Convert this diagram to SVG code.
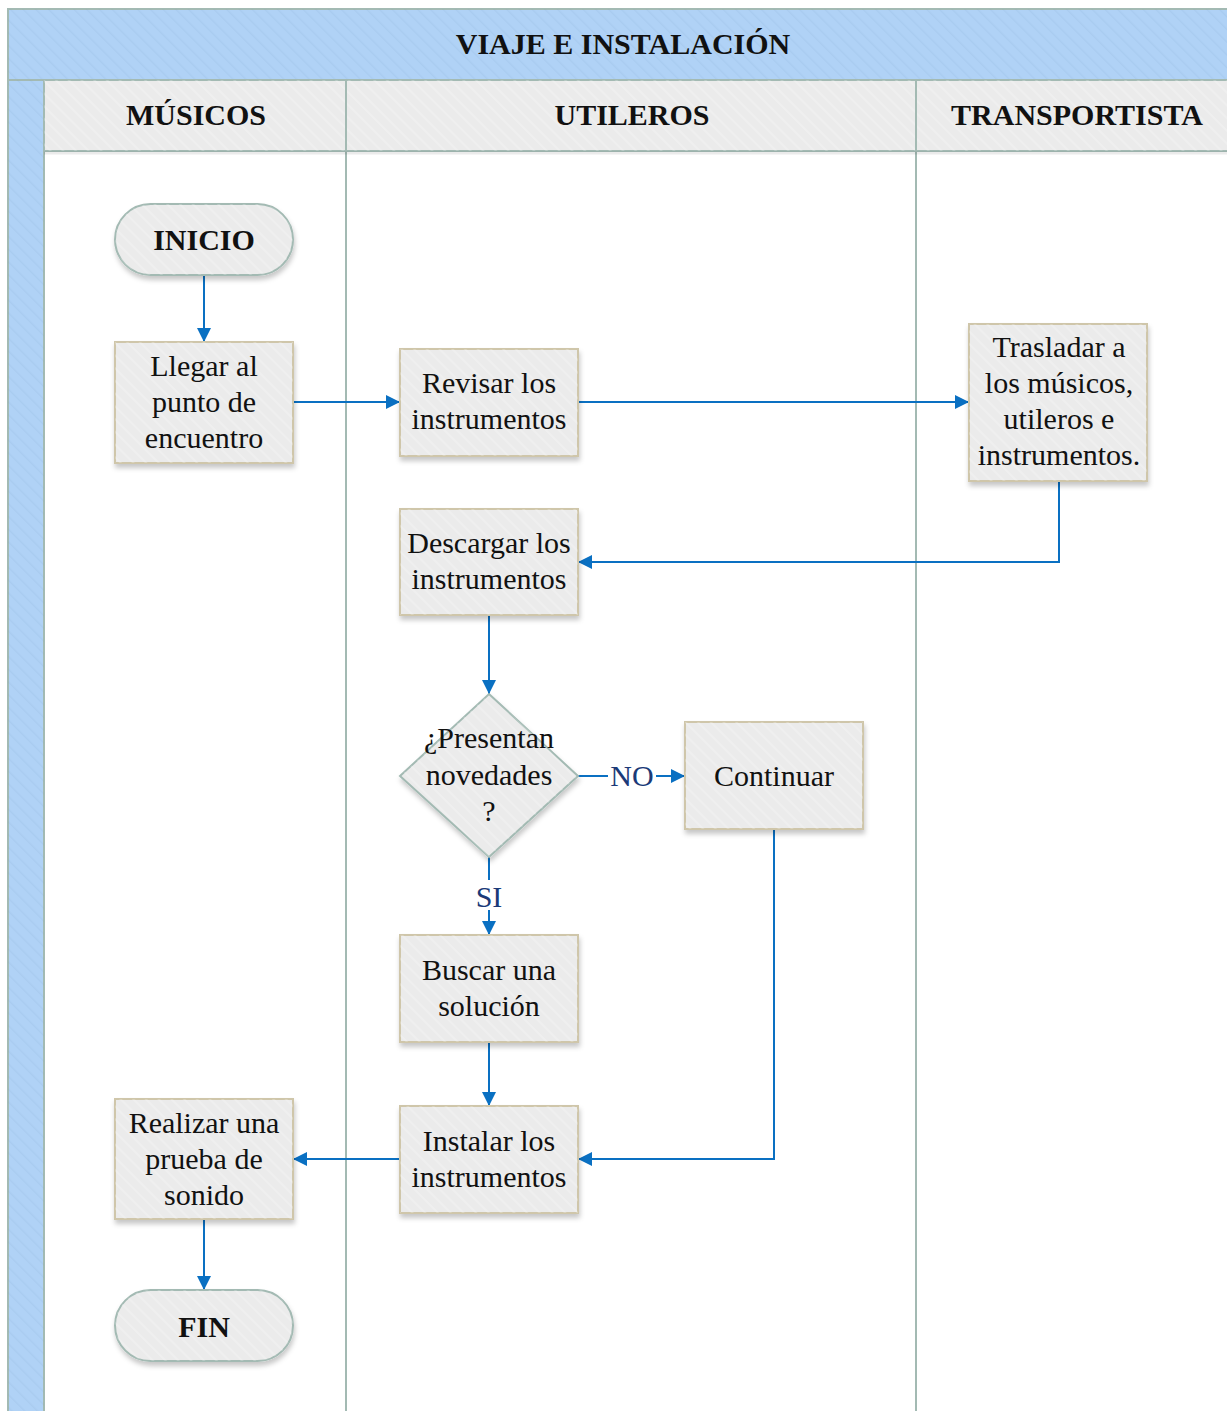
<svg xmlns="http://www.w3.org/2000/svg" width="1227" height="1411" viewBox="0 0 1227 1411">
  <defs>
    <style>
      .band { fill: #b0d2f6; stroke: #a3bab3; stroke-width: 2; }
      .head { fill: #ebebeb; stroke: #a3bab3; stroke-width: 2; }
      .lane { stroke: #a3bab3; stroke-width: 2; fill: none; }
      .box { fill: #ebebeb; stroke: #cfc6aa; stroke-width: 2; filter: url(#shadow); }
      .term { fill: #ebebeb; stroke: #a3bab3; stroke-width: 2; filter: url(#shadow); }
      .hatch { fill: url(#stripes); pointer-events: none; }
      .t { font-family: "Liberation Serif", "Times New Roman", serif; font-size: 30px; fill: #111; text-anchor: middle; }
      .b { font-family: "Liberation Serif", "Times New Roman", serif; font-weight: bold; font-size: 30px; fill: #111; text-anchor: middle; }
      .lbl { font-family: "Liberation Serif", "Times New Roman", serif; font-size: 30px; fill: #1b3a78; text-anchor: middle; }
      .flow { stroke: #0a70c2; stroke-width: 2; fill: none; marker-end: url(#arrow); }
    </style>
    <pattern id="stripes" width="9" height="9" patternUnits="userSpaceOnUse" patternTransform="rotate(-45)">
      <rect x="0" y="0" width="2" height="9" fill="#ffffff" opacity="0.22"/>
    </pattern>
    <pattern id="stripesDark" width="9" height="9" patternUnits="userSpaceOnUse" patternTransform="rotate(-45)">
      <rect x="0" y="0" width="1.5" height="9" fill="#6f93c0" opacity="0.1"/>
    </pattern>
    <filter id="shadow" x="-10%" y="-10%" width="125%" height="130%">
      <feDropShadow dx="1" dy="4" stdDeviation="2.5" flood-color="#000" flood-opacity="0.22"/>
    </filter>
    <marker id="arrow" viewBox="0 0 12 12" refX="12" refY="6" markerWidth="14" markerHeight="14" markerUnits="userSpaceOnUse" orient="auto">
      <path d="M0,0 L12,6 L0,12 Z" fill="#0a70c2"/>
    </marker>
  </defs>

  <rect width="1227" height="1411" fill="#ffffff"/>

  <!-- Pool frame: title band, left band, lane headers -->
  <g id="pool">
    <rect class="band" x="8" y="9" width="1230" height="71"/>
    <rect x="8" y="9" width="1230" height="71" fill="url(#stripesDark)"/>
    <rect class="band" x="8" y="80" width="36" height="1340"/>
    <rect x="8" y="80" width="36" height="1340" fill="url(#stripesDark)"/>
    <rect class="head" x="44" y="80" width="1190" height="71"/>
    <rect class="hatch" x="44" y="80" width="1190" height="71"/>
    <line class="lane" x1="346" y1="80" x2="346" y2="1420"/>
    <line class="lane" x1="916" y1="80" x2="916" y2="1420"/>
    <line x1="44" y1="153" x2="1227" y2="153" stroke="#000" stroke-opacity="0.08" stroke-width="3"/>
    <text class="b" x="623" y="54">VIAJE E INSTALACIÓN</text>
    <text class="b" x="196" y="125">MÚSICOS</text>
    <text class="b" x="632" y="125">UTILEROS</text>
    <text class="b" x="1077" y="125">TRANSPORTISTA</text>
  </g>

  <!-- Connectors -->
  <g id="connectors">
    <line class="flow" x1="204" y1="276" x2="204" y2="342"/>
    <line class="flow" x1="293" y1="402" x2="400" y2="402"/>
    <line class="flow" x1="578" y1="402" x2="969" y2="402"/>
    <polyline class="flow" points="1059,481 1059,562 578,562"/>
    <line class="flow" x1="489" y1="615" x2="489" y2="694"/>
    <line class="flow" x1="578" y1="776" x2="685" y2="776"/>
    <line class="flow" x1="489" y1="857" x2="489" y2="935"/>
    <line class="flow" x1="489" y1="1042" x2="489" y2="1106"/>
    <polyline class="flow" points="774,829 774,1159 578,1159"/>
    <line class="flow" x1="400" y1="1159" x2="293" y2="1159"/>
    <line class="flow" x1="204" y1="1219" x2="204" y2="1290"/>
    <rect x="608" y="762" width="48" height="28" fill="#ffffff"/>
    <text class="lbl" x="632" y="786">NO</text>
    <rect x="474" y="880" width="30" height="30" fill="#ffffff"/>
    <text class="lbl" x="489" y="907">SI</text>
  </g>

  <!-- Nodes -->
  <g id="inicio">
    <rect class="term" x="115" y="204" width="178" height="71" rx="35.5"/>
    <rect class="hatch" x="115" y="204" width="178" height="71" rx="35.5"/>
    <text class="b" x="204" y="250">INICIO</text>
  </g>

  <g id="llegar">
    <rect class="box" x="115" y="342" width="178" height="121"/>
    <rect class="hatch" x="115" y="342" width="178" height="121"/>
    <text class="t" x="204" y="376">Llegar al</text>
    <text class="t" x="204" y="412">punto de</text>
    <text class="t" x="204" y="448">encuentro</text>
  </g>

  <g id="revisar">
    <rect class="box" x="400" y="349" width="178" height="107"/>
    <rect class="hatch" x="400" y="349" width="178" height="107"/>
    <text class="t" x="489" y="393">Revisar los</text>
    <text class="t" x="489" y="429">instrumentos</text>
  </g>

  <g id="trasladar">
    <rect class="box" x="969" y="324" width="178" height="157"/>
    <rect class="hatch" x="969" y="324" width="178" height="157"/>
    <text class="t" x="1059" y="357">Trasladar a</text>
    <text class="t" x="1059" y="393">los músicos,</text>
    <text class="t" x="1059" y="429">utileros e</text>
    <text class="t" x="1059" y="465">instrumentos.</text>
  </g>

  <g id="descargar">
    <rect class="box" x="400" y="509" width="178" height="106"/>
    <rect class="hatch" x="400" y="509" width="178" height="106"/>
    <text class="t" x="489" y="553">Descargar los</text>
    <text class="t" x="489" y="589">instrumentos</text>
  </g>

  <g id="decision">
    <polygon class="term" points="489,694 578,776 489,857 400,776"/>
    <polygon class="hatch" points="489,694 578,776 489,857 400,776"/>
    <text class="t" x="489" y="748">¿Presentan</text>
    <text class="t" x="489" y="785">novedades</text>
    <text class="t" x="489" y="821">?</text>
  </g>

  <g id="continuar">
    <rect class="box" x="685" y="722" width="178" height="107"/>
    <rect class="hatch" x="685" y="722" width="178" height="107"/>
    <text class="t" x="774" y="786">Continuar</text>
  </g>

  <g id="buscar">
    <rect class="box" x="400" y="935" width="178" height="107"/>
    <rect class="hatch" x="400" y="935" width="178" height="107"/>
    <text class="t" x="489" y="980">Buscar una</text>
    <text class="t" x="489" y="1016">solución</text>
  </g>

  <g id="instalar">
    <rect class="box" x="400" y="1106" width="178" height="107"/>
    <rect class="hatch" x="400" y="1106" width="178" height="107"/>
    <text class="t" x="489" y="1151">Instalar los</text>
    <text class="t" x="489" y="1187">instrumentos</text>
  </g>

  <g id="realizar">
    <rect class="box" x="115" y="1099" width="178" height="120"/>
    <rect class="hatch" x="115" y="1099" width="178" height="120"/>
    <text class="t" x="204" y="1133">Realizar una</text>
    <text class="t" x="204" y="1169">prueba de</text>
    <text class="t" x="204" y="1205">sonido</text>
  </g>

  <g id="fin">
    <rect class="term" x="115" y="1290" width="178" height="71" rx="35.5"/>
    <rect class="hatch" x="115" y="1290" width="178" height="71" rx="35.5"/>
    <text class="b" x="204" y="1337">FIN</text>
  </g>
</svg>
